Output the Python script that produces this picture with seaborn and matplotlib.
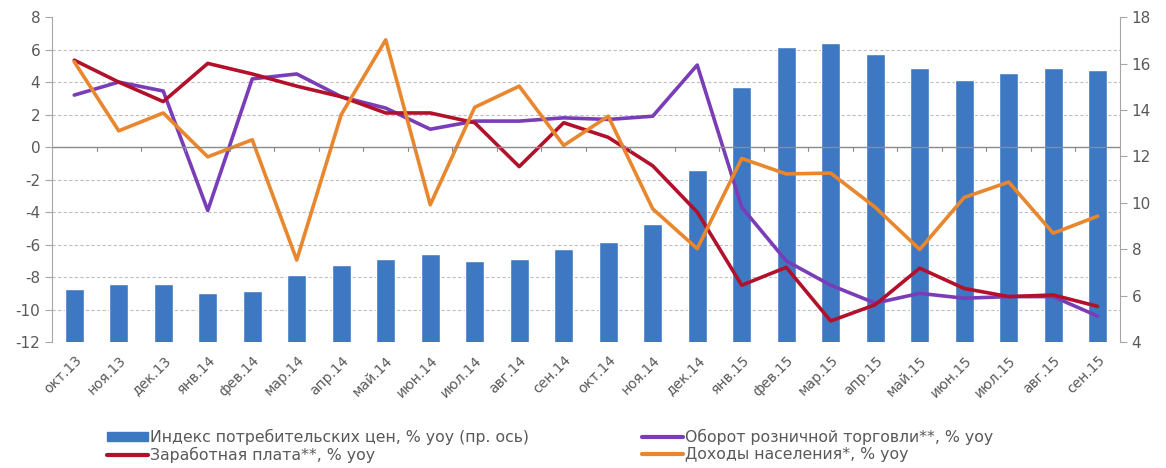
import numpy as np
import pandas as pd
import matplotlib
matplotlib.use("Agg")
import matplotlib.pyplot as plt
import seaborn as sns
from matplotlib.lines import Line2D
from matplotlib.patches import Patch

# данные
months = ['окт.13', 'ноя.13', 'дек.13', 'янв.14', 'фев.14', 'мар.14', 'апр.14', 'май.14',
          'июн.14', 'июл.14', 'авг.14', 'сен.14', 'окт.14', 'ноя.14', 'дек.14', 'янв.15',
          'фев.15', 'мар.15', 'апр.15', 'май.15', 'июн.15', 'июл.15', 'авг.15', 'сен.15']
cpi = [6.3, 6.5, 6.5, 6.1, 6.2, 6.9, 7.3, 7.6, 7.8, 7.5, 7.6, 8.0,
       8.3, 9.1, 11.4, 15.0, 16.7, 16.9, 16.4, 15.8, 15.3, 15.6, 15.8, 15.7]
retail = [3.2, 4.0, 3.45, -3.9, 4.2, 4.5, 3.1, 2.4, 1.1, 1.6, 1.6, 1.8,
          1.7, 1.9, 5.05, -3.7, -7.0, -8.5, -9.6, -9.0, -9.3, -9.2, -9.2, -10.4]
wages = [5.35, 4.0, 2.8, 5.15, 4.5, 3.75, 3.1, 2.1, 2.1, 1.5, -1.2, 1.5,
         0.6, -1.15, -4.0, -8.5, -7.4, -10.7, -9.7, -7.45, -8.7, -9.2, -9.1, -9.8]
income = [5.25, 1.0, 2.1, -0.6, 0.45, -6.95, 2.0, 6.6, -3.55, 2.45, 3.75, 0.1,
          1.9, -3.8, -6.25, -0.7, -1.65, -1.6, -3.7, -6.3, -3.1, -2.15, -5.3, -4.25]

lbl_cpi = 'Индекс потребительских цен, % yoy (пр. ось)'
lbl_retail = 'Оборот розничной торговли**, % yoy'
lbl_wages = 'Заработная плата**, % yoy'
lbl_income = 'Доходы населения*, % yoy'

c_bar = '#3F78C2'
c_retail = '#7A3DB8'
c_wages = '#B2112B'
c_income = '#E8872E'
c_text = '#595959'
c_axis = '#A6A6A6'

sns.set_style('white')
plt.rcParams['font.family'] = ['DejaVu Sans']
plt.rcParams['axes.unicode_minus'] = False

idx = np.arange(len(months))
lines = pd.DataFrame({'pos': np.tile(idx, 3),
                      'value': retail + wages + income,
                      'series': [lbl_retail] * 24 + [lbl_wages] * 24 + [lbl_income] * 24})

fig = plt.figure(figsize=(11.66, 4.68), dpi=100)
ax_bar = fig.add_axes([0.0446, 0.269, 0.9159, 0.6945])
ax_line = ax_bar.twinx()

# столбцы ИПЦ (правая ось)
sns.barplot(x=months, y=cpi, color=c_bar, width=0.42, saturation=1, ax=ax_bar)
ax_bar.set_ylim(4, 18)
ax_bar.set_yticks(np.arange(4, 19, 2))
ax_bar.yaxis.tick_right()
ax_bar.set_yticks(np.arange(4, 18.01, 1.4), minor=True)
ax_bar.grid(False)
ax_bar.grid(which='minor', axis='y', color='#BFBFBF', linestyle=(0, (3, 2)), linewidth=0.8)
ax_bar.set_axisbelow(True)

# линии (левая ось)
sns.lineplot(data=lines, x='pos', y='value', hue='series', legend=False, linewidth=2.6,
             palette={lbl_retail: c_retail, lbl_wages: c_wages, lbl_income: c_income},
             ax=ax_line)
ax_line.set_ylim(-12, 8)
ax_line.set_yticks(np.arange(-12, 9, 2))
ax_line.yaxis.tick_left()
ax_line.axhline(0, color='#8C8C8C', linewidth=1)
ax_line.set_xlim(-0.5, len(months) - 0.5)
for i in range(len(months) - 1):
    ax_line.plot([i + 0.5, i + 0.5], [0, -0.25], color='#8C8C8C', linewidth=0.8)

for a in (ax_bar, ax_line):
    a.set_xlabel('')
    a.set_ylabel('')
    for s in a.spines.values():
        s.set_visible(False)
ax_line.spines['left'].set_visible(True)
ax_line.spines['left'].set_color(c_axis)
ax_bar.spines['right'].set_visible(True)
ax_bar.spines['right'].set_color(c_axis)

ax_bar.tick_params(axis='y', which='major', right=True, length=5, color=c_axis,
                   labelsize=11, labelcolor=c_text)
ax_bar.tick_params(axis='y', which='minor', length=0)
ax_line.tick_params(axis='y', left=True, length=5, color=c_axis,
                    labelsize=11, labelcolor=c_text)
ax_bar.set_xticks(idx)
ax_bar.set_xticklabels(months, rotation=45, ha='right', rotation_mode='anchor')
ax_bar.tick_params(axis='x', length=0, labelsize=10, labelcolor=c_text, pad=8)
ax_line.tick_params(axis='x', length=0, labelbottom=False)

handles = [Patch(color=c_bar), Line2D([], [], color=c_wages, linewidth=3),
           Line2D([], [], color=c_retail, linewidth=3), Line2D([], [], color=c_income, linewidth=3)]
labels = [lbl_cpi, lbl_wages, lbl_retail, lbl_income]
leg = fig.legend(handles, labels, ncol=2, loc='upper left', bbox_to_anchor=(0.085, 0.1),
                 frameon=False, fontsize=11.3, handlelength=2.6, handleheight=0.5,
                 handletextpad=0.15, columnspacing=7.2, labelspacing=0.12, borderpad=0)
for t in leg.get_texts():
    t.set_color(c_text)

fig.savefig('out.png', dpi=100)
